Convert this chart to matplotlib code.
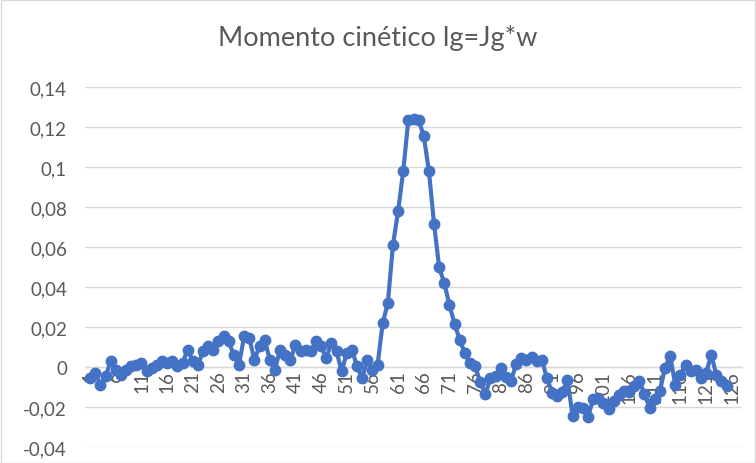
import matplotlib
matplotlib.use("Agg")
import matplotlib.pyplot as plt
from matplotlib.patches import Rectangle

plt.rcParams['font.family'] = ['Lato', 'DejaVu Sans']

title = "Momento cinético lg=Jg*w"

momento = [
    -0.0055, -0.003, -0.0088, -0.0047, 0.0028, -0.0013, -0.0038, -0.0013, 0.0003, 0.001,
    0.002, -0.0022, -0.0005, 0.001, 0.0028, 0.002, 0.0028, 0.0003, 0.002, 0.0087,
    0.0028, 0.001, 0.0078, 0.0103, 0.0087, 0.0128, 0.0153, 0.0128, 0.006, 0.001,
    0.0153, 0.0145, 0.0037, 0.0103, 0.0137, 0.0037, -0.0013, 0.0087, 0.006, 0.0037,
    0.011, 0.0078, 0.0087, 0.0078, 0.0128, 0.0103, 0.0045, 0.012, 0.0078, -0.0022,
    0.007, 0.0087, 0.0003, -0.0055, 0.0037, -0.0013, 0.001, 0.022, 0.032, 0.061,
    0.078, 0.098, 0.1237, 0.124, 0.1235, 0.1155, 0.098, 0.0717, 0.0498, 0.042,
    0.031, 0.0215, 0.0137, 0.007, 0.002, 0.0005, -0.0075, -0.0135, -0.0055, -0.0045,
    -0.0005, -0.005, -0.007, 0.0015, 0.0045, 0.0035, 0.005, 0.003, 0.0035, -0.0055,
    -0.013, -0.0145, -0.0125, -0.0063, -0.0245, -0.02, -0.0205, -0.025, -0.016, -0.0155,
    -0.018, -0.021, -0.017, -0.014, -0.012, -0.0125, -0.0095, -0.007, -0.0135, -0.0205,
    -0.016, -0.012, -0.0005, 0.0055, -0.0088, -0.004, 0.0012, -0.002, -0.0013, -0.0055,
    -0.003, 0.006, -0.0038, -0.007, -0.0097,
]
categories = list(range(1, len(momento) + 1))

x_tick_values = list(range(1, 127, 5))
x_tick_labels = [str(v) for v in x_tick_values]
y_tick_values = [-0.04, -0.02, 0.0, 0.02, 0.04, 0.06, 0.08, 0.10, 0.12, 0.14]
y_tick_labels = ['-0,04', '-0,02', '0', '0,02', '0,04', '0,06', '0,08', '0,1', '0,12', '0,14']

W, H = 756, 464
fig = plt.figure(figsize=(W / 100, H / 100), dpi=100)
fig.patches.append(Rectangle((0.5 / W, 0.5 / H), 1 - 1.5 / W, 1 - 1.5 / H,
                             transform=fig.transFigure, fill=False,
                             edgecolor='#d9d9d9', linewidth=1.0))

ax = fig.add_axes([85 / W, (H - 448) / H, (742 - 85) / W, (448 - 88) / H])

text_color = '#595959'
grid_color = '#d9d9d9'

ax.set_ylim(-0.04, 0.14)
ax.set_xlim(0.0, 128.0)
ax.set_yticks(y_tick_values)
ax.set_yticklabels(y_tick_labels)
ax.set_xticks(x_tick_values)
ax.set_xticklabels(x_tick_labels)

ax.grid(axis='y', color=grid_color, linewidth=1.0)
ax.set_axisbelow(True)
for s in ['top', 'right', 'left']:
    ax.spines[s].set_visible(False)
ax.spines['bottom'].set_position(('data', 0))
ax.spines['bottom'].set_color(grid_color)
ax.spines['bottom'].set_linewidth(1.0)

ax.tick_params(axis='y', length=0, pad=13, labelsize=13.5, labelcolor=text_color)
ax.tick_params(axis='x', length=0, pad=2, labelsize=13.5, labelcolor=text_color,
               labelrotation=90)
for lbl in ax.get_yticklabels():
    lbl.set_horizontalalignment('right')

ax.plot(categories, momento, color='#4472C4', linewidth=3.0, marker='o',
        markersize=7.5, markerfacecolor='#4472C4', markeredgecolor='#4472C4',
        zorder=3, clip_on=False)

fig.text(0.5, (H - 38) / H, title, ha='center', va='center', fontsize=19.5,
         color=text_color)

fig.savefig('out.png', dpi=100)
